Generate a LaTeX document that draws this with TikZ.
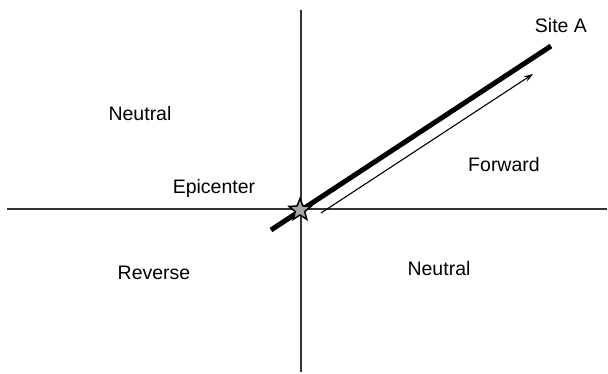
\documentclass[tikz,border=0pt]{standalone}
\usepackage{fontspec}
\setmainfont{Liberation Sans}
\usetikzlibrary{shapes.geometric, arrows.meta, positioning}

\tikzset{
    axisline/.style={line width=1.2pt, black!80},
    region/.style={anchor=base, inner sep=0pt, font=\fontsize{19.5}{22}\selectfont},
}

\begin{document}
\begin{tikzpicture}[x=1pt, y=-1pt]
    \useasboundingbox (0,0) rectangle (608,373);

    % Axes
    \coordinate (xl) at (7,209);
    \coordinate (xr) at (607,209);
    \coordinate (yt) at (301,10);
    \coordinate (yb) at (301,372);
    \draw[axisline] (xl) -- (xr);
    \draw[axisline] (yt) -- (yb);

    % Fault line through the epicenter towards the site
    \coordinate (tail) at (271,230);
    \coordinate (site) at (551,46);
    \draw[line width=5pt, line cap=butt] (tail) -- (site);

    % Direction of rupture
    \coordinate (arrfrom) at (321,213);
    \coordinate (arrto) at (533,74);
    \draw[-{Stealth[length=9pt, width=6pt]}, line width=1.1pt] (arrfrom) -- (arrto);

    % Epicenter star
    \node[star, star points=5, star point ratio=2.3, minimum size=23pt, inner sep=0pt,
          draw=black, line width=1.5pt, fill=gray!70] (epi) at (300,210) {};

    % Region labels
    \node[region] (neutralA) at (140,120) {Neutral};
    \node[region] (siteA) at (561,32) {Site A};
    \node[region] (forward) at (504,171) {Forward};
    \node[region] (epicenter) at (214,193) {Epicenter};
    \node[region] (reverse) at (154,279) {Reverse};
    \node[region] (neutralB) at (439,275) {Neutral};
\end{tikzpicture}
\end{document}
